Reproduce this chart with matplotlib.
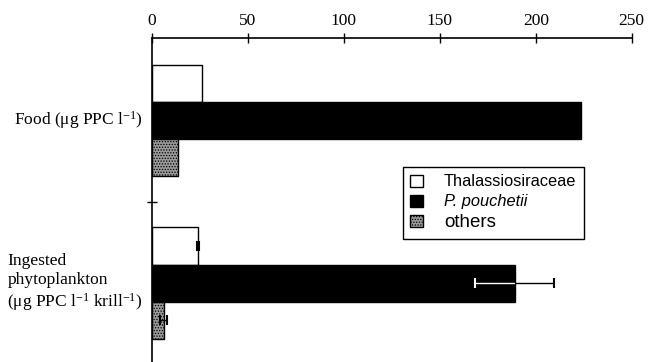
import matplotlib
matplotlib.use("Agg")
import matplotlib.pyplot as plt
from matplotlib.patches import Patch
import numpy as np

plt.rcParams["font.family"] = "Liberation Serif"
plt.rcParams["mathtext.default"] = "regular"
plt.rcParams["hatch.linewidth"] = 0.6

# data
groups = ["Food (μg PPC l$^{-1}$)",
          "Ingested\nphytoplankton\n(μg PPC l$^{-1}$ krill$^{-1}$)"]
series = ["Thalassiosiraceae", "P. pouchetii", "others"]
thalassio = [26, 24]
pouchetii = [223.5, 189]
others = [13.7, 6]
thalassio_err = [0, 0.6]
pouchetii_err = [0, 20.5]
others_err = [0, 1.9]
xticks = [0, 50, 100, 150, 200, 250]

values = [thalassio, pouchetii, others]
errors = [thalassio_err, pouchetii_err, others_err]
styles = [dict(facecolor="white", edgecolor="black"),
          dict(facecolor="black", edgecolor="black"),
          dict(facecolor="#9a9a9a", edgecolor="black", hatch="......")]

fig = plt.figure(figsize=(6.59, 3.62), dpi=100)
ax = fig.add_axes([152 / 659, 0.0, (631.7 - 152) / 659, 1 - 38 / 362])

h = 0.228
ypos = np.arange(len(groups))
for i, (vals, errs, st) in enumerate(zip(values, errors, styles)):
    y = ypos + (i - 1) * h
    bars = ax.barh(y, vals, height=h, linewidth=1.0, **st)
    for b, yy, v, e in zip(bars, y, vals, errs):
        if e <= 0:
            continue
        ax.errorbar(v, yy, xerr=e, fmt="none", ecolor="black",
                    elinewidth=1.0, capsize=3.5, capthick=1.5)
        if st["facecolor"] == "black":
            # white part of the error bar inside the black bar
            eb = ax.errorbar(v, yy, xerr=e, fmt="none", ecolor="white",
                             elinewidth=1.0, capsize=3.5, capthick=1.5)
            for art in list(eb.lines[1]) + list(eb.lines[2]):
                art.set_clip_path(b)

ax.set_xlim(0, 250)
ax.set_ylim(1.486, -0.508)

ax.xaxis.tick_top()
ax.set_xticks(xticks)
ax.set_xticklabels([str(t) for t in xticks], fontsize=12.5)
ax.tick_params(axis="x", direction="inout", length=7, width=1, pad=3)
ax.set_yticks([0.5])
ax.set_yticklabels([""])
ax.tick_params(axis="y", direction="inout", length=7, width=1)
ax.spines["right"].set_visible(False)
ax.spines["bottom"].set_visible(False)
ax.spines["top"].set_linewidth(1.2)
ax.spines["left"].set_linewidth(1.2)

for g, yy in zip(groups, ypos):
    ax.annotate(g, xy=(0, yy), xycoords="data", xytext=(-6.5, 0),
                textcoords="offset points", ha="right", va="center",
                multialignment="left", fontsize=12.5, linespacing=1.2,
                annotation_clip=False)

handles = [Patch(linewidth=1.0, **st) for st in styles]
leg = fig.legend(handles, series, loc="upper left",
                 bbox_to_anchor=(403 / 659, 1 - 167 / 362),
                 bbox_transform=fig.transFigure, borderaxespad=0,
                 fancybox=False, framealpha=1, edgecolor="black",
                 handlelength=0.75, handleheight=0.75, handletextpad=1.3,
                 labelspacing=0.3, borderpad=0.45,
                 prop={"family": "Liberation Sans", "size": 11.8})
leg.get_frame().set_linewidth(1.0)
leg.get_texts()[1].set_fontstyle("italic")
leg.get_texts()[2].set_fontsize(13.5)

fig.savefig("out.png", dpi=100)
